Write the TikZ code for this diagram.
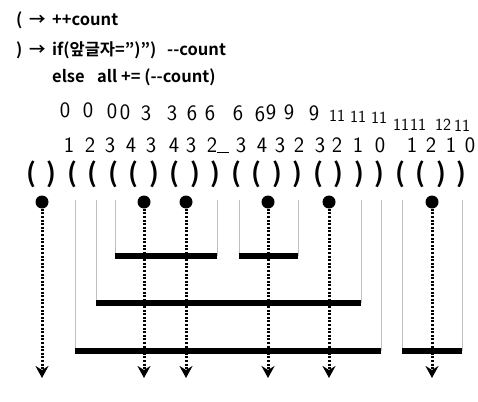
\documentclass[tikz,border=0pt]{standalone}
\usepackage{fontspec}
\setmainfont{Noto Sans CJK KR}[BoldFont={Noto Sans CJK KR Bold}]
\usetikzlibrary{arrows.meta}
\newcommand\parL{(}
\newcommand\parR{)}

\begin{document}
\begin{tikzpicture}[x=1pt, y=-1pt,
  rule/.style={font=\bfseries\fontsize{16.5}{16.5}\selectfont, inner sep=0pt, anchor=base west},
  paren/.style={font=\bfseries\fontsize{26}{26}\selectfont, inner sep=0pt},
  hand/.style={font=\sffamily\fontsize{22}{22}\selectfont, inner sep=0pt},
  small hand/.style={hand, font=\sffamily\fontsize{17}{17}\selectfont},
  dot/.style={circle, fill, inner sep=0pt, minimum size=13pt},
  laser/.style={line width=3pt, dash pattern=on 2pt off 1.6pt,
    -{Stealth[length=12pt, width=13pt, inset=4pt]}},
  bar/.style={line width=6.5pt},
  side/.style={black!25, line width=0.8pt}]
  \useasboundingbox (0,0) rectangle (478,401);

  % rules
  \node[rule] (o1) at (16,26) {(};
  \node[rule] (a1) at (29,26) {→};
  \node[rule] (r1) at (52,26) {++count};
  \node[rule] (o2) at (16,56) {)};
  \node[rule] (a2) at (29,56) {→};
  \node[rule] (r2) at (52,56) {if(앞글자=")")};
  \node[rule] (r2b) at (167,56) {-{}-count};
  \node[rule] (r3) at (52,82) {else};
  \node[rule] (r3b) at (97,82) {all += (-{}-count)};

  % handwritten sums and depths
  \foreach \x/\y/\v [count=\i] in {65/110/0, 88/110/0, 112/111/0, 125/112/0,
      146/113/3, 172/113/3, 192/113/6, 210/113/6, 238/113/6, 260/114/6,
      271/112/9, 289/112/9, 314/113/9}
    \node[hand] (s\i) at (\x,\y) {\v};
  \foreach \x/\y/\v [count=\i from 14] in {337/116/11, 358/117/11, 379/118/11,
      401/125/11, 418/125/11, 443/125/12, 462/126/11}
    \node[small hand] (s\i) at (\x,\y) {\v};
  \foreach \x/\v [count=\i] in {69/1, 90/2, 110/3, 131/4, 151/3, 174/4,
      191/3, 212/2, 241/3, 262/4, 280/3, 299/2, 320/3, 337/2, 358/1, 380/0,
      412/1, 431/2, 451/1, 470/0}
    \node[hand] (c\i) at (\x,145) {\v};
  \draw[line width=0.6pt] (c8.south east) -- ++(12,0);

  % parentheses
  \foreach \s [count=\i] in {L,R,L,L,L,L,R,L,R,R,L,L,R,R,L,R,R,R,L,L,R,R}
    \node[paren] (p\i) at ({31+20.5*(\i-1)},174) {\csname par\s\endcsname};

  % pipes
  \foreach \a/\b/\y in {115/217/256, 239/298/256, 96/361/303, 75/381/351, 402/462/351} {
    \draw[side] (\a,200) -- (\a,\y) (\b,200) -- (\b,\y);
    \draw[bar] (\a,\y) -- (\b,\y);
  }

  % lasers
  \foreach \x [count=\i] in {42,144,186,268,329,432} {
    \node[dot] (d\i) at (\x,202) {};
    \coordinate (e\i) at (\x,378);
    \draw[laser] (d\i) -- (e\i);
  }
\end{tikzpicture}
\end{document}
